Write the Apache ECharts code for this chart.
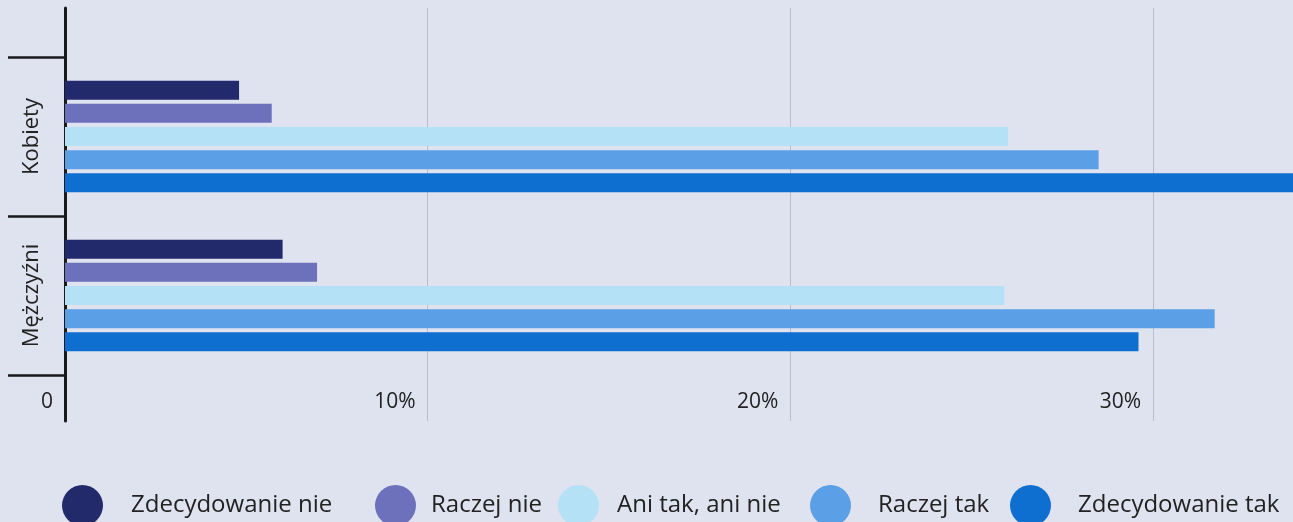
<!DOCTYPE html>
<html>
<head>
<meta charset="utf-8">
<script src="https://cdn.jsdelivr.net/npm/echarts@6/dist/echarts.min.js"></script>
<style>
  html, body { margin: 0; padding: 0; background: #dfe2ef; }
  #chart { width: 1293px; height: 522px; }
</style>
</head>
<body>
<div id="chart"></div>
<script>
// Categories and series (values in %)
const categories = ['Kobiety', 'Mężczyźni'];
const seriesNames = ['Zdecydowanie nie', 'Raczej nie', 'Ani tak, ani nie', 'Raczej tak', 'Zdecydowanie tak'];
const zdecydowanieNie = [4.8, 6.0];
const raczejNie = [5.7, 6.95];
const aniTakAniNie = [26.0, 25.9];
const raczejTak = [28.5, 31.7];
const zdecydowanieTak = [35.0, 29.6];
const colors = ['#232a6b', '#6d71bc', '#b4e1f6', '#5b9fe6', '#0f6fd0'];
const xTicks = [0, 10, 20, 30];

const seriesData = [zdecydowanieNie, raczejNie, aniTakAniNie, raczejTak, zdecydowanieTak];
const xMax = 33.86;
const font = '"Open Sans", sans-serif';

// legend: one legend per item so each sits where it is in the scan
const legendLeft = [62, 375, 558, 810, 1010];
const legendTextGap = [23, 10, 13, 22, 22];

const chart = echarts.init(document.getElementById('chart'));

const option = {
    backgroundColor: '#dfe2ef',
    animation: false,
    grid: [
        { left: 65, right: 0, top: 57, bottom: 147 },
        { left: 65, right: 0, top: 8, bottom: 101 }
    ],
    xAxis: [
        { gridIndex: 0, type: 'value', min: 0, max: xMax, show: false },
        {
            gridIndex: 1,
            type: 'value',
            min: 0,
            max: xMax,
            interval: 10,
            axisLine: { show: false },
            axisTick: { show: false },
            splitLine: { show: true, lineStyle: { color: '#b9bccc', width: 1 } },
            axisLabel: {
                inside: true,
                margin: 8,
                align: 'right',
                padding: [0, 12, 0, 0],
                showMaxLabel: false,
                fontFamily: font,
                fontSize: 21,
                color: '#222',
                formatter: function (v) {
                    if (xTicks.indexOf(v) < 0) return '';
                    return v === 0 ? '0' : v + '%';
                }
            }
        }
    ],
    yAxis: [
        {
            gridIndex: 0,
            type: 'category',
            data: categories,
            inverse: true,
            axisLine: { show: false },
            axisTick: { show: true, length: 57, lineStyle: { color: '#1a1a1a', width: 2.5 } },
            axisLabel: {
                rotate: 90,
                margin: 22,
                fontFamily: font,
                fontSize: 22,
                color: '#222'
            }
        },
        {
            gridIndex: 1,
            type: 'value',
            axisLine: { show: true, lineStyle: { color: '#1a1a1a', width: 3 } },
            axisTick: { show: false },
            axisLabel: { show: false },
            splitLine: { show: false }
        }
    ],
    legend: seriesNames.map((name, i) => ({
        data: [name],
        left: legendLeft[i],
        top: 485,
        padding: 0,
        icon: 'circle',
        itemWidth: 41,
        itemHeight: 41,
        selectedMode: false,
        textStyle: {
            fontFamily: font,
            fontSize: 24,
            color: '#222',
            padding: [2, 0, 0, legendTextGap[i]]
        }
    })),
    series: seriesNames.map((name, i) => ({
        name: name,
        type: 'bar',
        xAxisIndex: 0,
        yAxisIndex: 0,
        data: seriesData[i],
        barWidth: 19,
        barGap: '22%',
        itemStyle: { color: colors[i] }
    }))
};

chart.setOption(option);
</script>
</body>
</html>
